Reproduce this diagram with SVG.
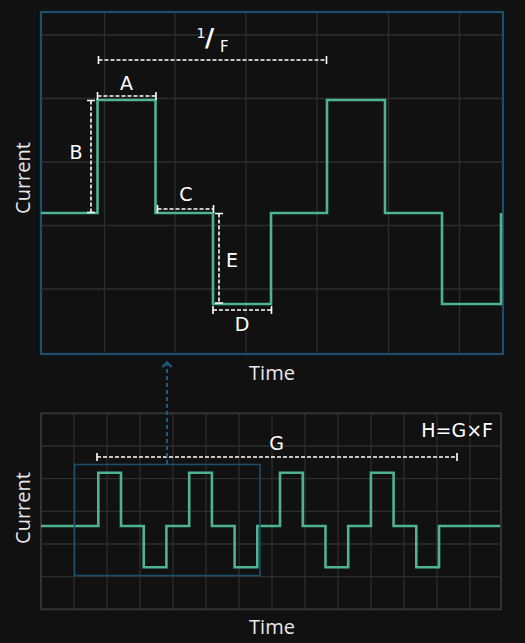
<svg xmlns="http://www.w3.org/2000/svg" width="525" height="643" viewBox="0 0 525 643">
<style>
.bg{fill:#111112}
.grid{stroke:#2e2e2e;stroke-width:1.3;fill:none}
.wave{stroke:#4db391;stroke-width:2.6;fill:none;stroke-linejoin:miter}
.dim{stroke:#ffffff;stroke-width:1.6;fill:none;stroke-dasharray:4 2}
.tick{stroke:#ffffff;stroke-width:1.6;fill:none}
.lbl{font-family:"DejaVu Sans","Open Sans",sans-serif;fill:#ffffff;font-size:19px;stroke:#111112;stroke-width:3;paint-order:stroke;stroke-linejoin:round}
.ax{font-family:"Open Sans","Liberation Sans",sans-serif;fill:#e8e8e8;font-size:20px}
.blue{stroke:#1d4d6c;fill:none}
</style>
<rect class="bg" x="0" y="0" width="525" height="643"/>

<g id="top-panel">
  <g class="grid">
    <path d="M104.5 12V354M175 12V354M246 12V354M317 12V354M388.5 12V354M459.5 12V354"/>
    <path d="M41 35H503M41 98.5H503M41 162H503M41 225.5H503M41 289H503"/>
  </g>
  <rect class="blue" x="41" y="12" width="462" height="342" stroke-width="2.2"/>
  <path class="wave" d="M41 213H97.5V100H155.5V213H213V304H271V213H327V100H385V213H442V304H501V213"/>
  <text class="ax" x="272" y="380" text-anchor="middle">Time</text>
  <text class="ax" transform="translate(30 178) rotate(-90)" text-anchor="middle">Current</text>
</g>

<g id="dim-1F">
  <path class="dim" d="M98.5 60H326.5"/>
  <path class="tick" d="M98.5 56V64M326.5 56V64"/>
  <text class="lbl" x="196.5" y="37.5" style="font-size:14px">1</text>
  <text class="lbl" x="205" y="45.5" style="font-size:25px;font-weight:bold">/</text>
  <text class="lbl" x="220" y="51.5" style="font-size:15px">F</text>
</g>
<g id="dim-A">
  <path class="dim" d="M97.5 96H156"/>
  <path class="tick" d="M97.5 92V100M156 92V100"/>
  <text class="lbl" x="126.5" y="90" text-anchor="middle">A</text>
</g>
<g id="dim-B">
  <path class="dim" d="M91 100.5V212.5"/>
  <path class="tick" d="M87 100.5H95M87 212.5H95"/>
  <text class="lbl" x="76" y="159" text-anchor="middle">B</text>
</g>
<g id="dim-C">
  <path class="dim" d="M157.5 209H213.5"/>
  <path class="tick" d="M157.5 205V213M213.5 205V213"/>
  <text class="lbl" x="186" y="201" text-anchor="middle">C</text>
</g>
<g id="dim-E">
  <path class="dim" d="M219 213.5V303"/>
  <path class="tick" d="M215 213.5H223M215 303H223"/>
  <text class="lbl" x="232" y="267" text-anchor="middle">E</text>
</g>
<g id="dim-D">
  <path class="dim" d="M213 310H271.5"/>
  <path class="tick" d="M213 306V314M271.5 306V314"/>
  <text class="lbl" x="242" y="331" text-anchor="middle">D</text>
</g>

<g id="bottom-panel">
  <g class="grid">
    <path d="M74 413.3V609.3M107 413.3V609.3M140 413.3V609.3M173 413.3V609.3M206 413.3V609.3M239 413.3V609.3M272 413.3V609.3M305 413.3V609.3M338 413.3V609.3M371 413.3V609.3M404 413.3V609.3M437 413.3V609.3M470 413.3V609.3"/>
    <path d="M41 446H501M41 478.7H501M41 511.3H501M41 544H501M41 576.7H501"/>
  </g>
  <rect x="41" y="413.3" width="460" height="196" fill="none" stroke="#333333" stroke-width="2"/>
  <path class="wave" d="M41 526H98.3V472.7H121V526H143.7V567.3H166.4V526H189.2V472.7H211.9V526H234.6V567.3H257.3V526H280V472.7H302.8V526H325.5V567.3H348.2V526H370.9V472.7H393.6V526H416.3V567.3H439V526H500"/>
  <rect class="blue" x="74.5" y="464.5" width="185.5" height="111" stroke-width="1.6"/>
  <text class="ax" x="272" y="634" text-anchor="middle">Time</text>
  <text class="ax" transform="translate(30 508) rotate(-90)" text-anchor="middle">Current</text>
</g>

<g id="dim-G">
  <path class="dim" d="M97 457H457"/>
  <path class="tick" d="M97 453V461M457 453V461"/>
  <text class="lbl" x="276.5" y="450" text-anchor="middle">G</text>
</g>
<g id="formula">
  <text class="lbl" x="493" y="437" text-anchor="end">H=G×F</text>
</g>

<g id="connectors">
  <path d="M167 464V365" stroke="#1d5a80" stroke-width="2" stroke-dasharray="4 3" fill="none"/>
  <path d="M162.5 367L167 362.5L171.5 367" stroke="#1d5a80" stroke-width="2.4" fill="none"/>
</g>
</svg>
